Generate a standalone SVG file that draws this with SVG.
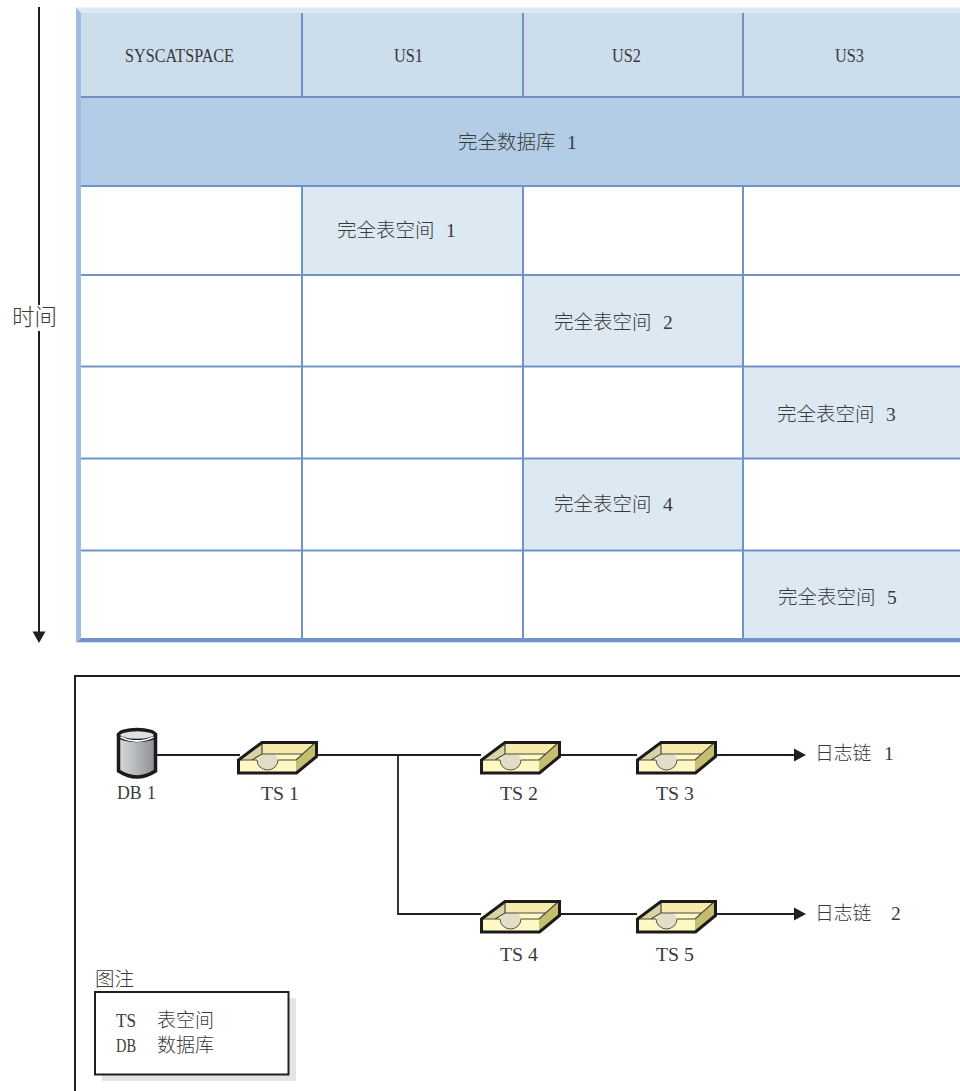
<svg xmlns="http://www.w3.org/2000/svg" width="960" height="1091" viewBox="0 0 960 1091">
<style>
text{font-family:"Liberation Serif","Noto Sans CJK SC",serif;font-size:19.500px;fill:#3a3a3a;font-weight:400}
.c{font-family:"Noto Sans CJK SC","Liberation Serif",sans-serif;font-weight:300;font-size:19.500px}
.d{font-family:"Liberation Serif",serif;font-size:19.500px}
.g{stroke:#6f93c6;stroke-width:2;fill:none}
.w{stroke:#231f20;stroke-width:2;fill:none}
</style>
<defs>
<linearGradient id="cyl" x1="0" x2="1" y1="0" y2="0"><stop offset="0" stop-color="#d8dadc"/><stop offset="1" stop-color="#8d9094"/></linearGradient>
<g id="tray">
<path d="M238 773V760L261 742H316V756L296 773Z" fill="#fdf8c4"/>
<path d="M238 760L262 742V754L252 760Z" fill="#d9d3a6"/>
<path d="M262 742H316L303 754H262Z" fill="#f6e9ac"/>
<path d="M296 760L316 742V756L296 773Z" fill="#c5be6e"/>
<path d="M257 760C259 757 261 755 264 754H273C276 755 278 757 278 760A10.500 10 0 0 1 257 760Z" fill="#e3dcc6"/>
<path d="M257 760A10.500 10 0 0 0 278 760" fill="none" stroke="#55534a" stroke-width="1"/>
<path d="M238 760H257M278 760H296L316 742M262 742V754L252 760M262 754H303" fill="none" stroke="#4a4840" stroke-width="1.200"/>
<path d="M238.500 773V760L262 742.500H316.500V756.500L296.500 773Z" fill="none" stroke="#1c1a1a" stroke-width="3"/>
</g>
</defs>

<g id="timeline">
<line class="w" x1="39" y1="7" x2="39" y2="632"/>
<path d="M32.500 631.500H45.500L39 643Z" fill="#231f20"/>
<rect x="12" y="305" width="45" height="26" fill="#fff"/>
<text class="c" x="12" y="325" style="font-size:22.500px">时间</text>
</g>

<g id="table">
<rect x="76" y="8" width="884" height="635" fill="#fff"/>
<rect x="81" y="13" width="879" height="84" fill="#ccddec"/>
<rect x="81" y="97" width="879" height="89" fill="#b2cde5"/>
<rect x="302" y="186" width="221" height="89" fill="#dce8f2"/>
<rect x="523" y="275" width="220" height="91" fill="#dce8f2"/>
<rect x="743" y="366" width="217" height="92" fill="#dce8f2"/>
<rect x="523" y="458" width="220" height="92" fill="#dce8f2"/>
<rect x="743" y="550" width="217" height="89" fill="#dce8f2"/>
<path d="M76 7.500H960V13H81Z" fill="#dce8f3"/>
<path d="M76 7.500L81 13V638L76 643Z" fill="#9dbcde"/>
<path class="g" d="M81 97H960M81 186H960M81 275H960M81 366.500H960M81 458.500H960M81 550.500H960"/>
<path class="g" d="M302 13V97M302 186V639M523 13V97M523 186V639M743 13V97M743 186V639"/>
<path d="M81 638H960V642H77Z" fill="#6f93c6"/>
<path d="M76 643L77 642H960V643Z" fill="#cfdff0"/>
</g>

<g id="table-labels">
<text x="125" y="62" textLength="109" lengthAdjust="spacingAndGlyphs">SYSCATSPACE</text>
<text x="394" y="62" textLength="29" lengthAdjust="spacingAndGlyphs">US1</text>
<text x="612" y="62" textLength="29" lengthAdjust="spacingAndGlyphs">US2</text>
<text x="835" y="62" textLength="29" lengthAdjust="spacingAndGlyphs">US3</text>
<text class="c" x="458" y="149">完全数据库<tspan class="d" x="567">1</tspan></text>
<text class="c" x="337" y="237">完全表空间<tspan class="d" x="446">1</tspan></text>
<text class="c" x="554" y="329">完全表空间<tspan class="d" x="663">2</tspan></text>
<text class="c" x="777" y="421">完全表空间<tspan class="d" x="886">3</tspan></text>
<text class="c" x="554" y="511">完全表空间<tspan class="d" x="663">4</tspan></text>
<text class="c" x="778" y="604">完全表空间<tspan class="d" x="887">5</tspan></text>
</g>

<g id="panel"><path class="w" d="M75 1091V676H960"/></g>

<g id="connectors">
<path class="w" d="M155 755H240M316 755H481M560 755H637M716 755H794" style="stroke-width:1.800"/>
<path class="w" d="M398 755V914H481M560 914H637M716 914H794" style="stroke-width:1.800"/>
<path d="M794 748.500L806 755L794 761.500Z" fill="#231f20"/>
<path d="M794 907.500L806 914L794 920.500Z" fill="#231f20"/>
</g>

<g id="db1">
<path d="M118.500 735V771Q137 783 155.500 771V735Z" fill="url(#cyl)" stroke="#1c1a1a" stroke-width="3.500"/>
<ellipse cx="137" cy="735" rx="18.500" ry="5.500" fill="#dfe0e2" stroke="#1c1a1a" stroke-width="3.500"/>
<path d="M120.500 737Q137 745 153.500 737" fill="none" stroke="#fff" stroke-width="1.800"/>
<text x="117" y="799" textLength="39" lengthAdjust="spacingAndGlyphs">DB<tspan dx="6">1</tspan></text>
</g>
<g id="ts1"><use href="#tray"/><text x="261" y="800" textLength="38" lengthAdjust="spacingAndGlyphs">TS 1</text></g>
<g id="ts2"><use href="#tray" x="243"/><text x="500" y="800" textLength="38" lengthAdjust="spacingAndGlyphs">TS 2</text></g>
<g id="ts3"><use href="#tray" x="399"/><text x="656" y="800" textLength="38" lengthAdjust="spacingAndGlyphs">TS 3</text></g>
<g id="ts4"><use href="#tray" x="243" y="159"/><text x="500" y="961" textLength="38" lengthAdjust="spacingAndGlyphs">TS 4</text></g>
<g id="ts5"><use href="#tray" x="399" y="159"/><text x="656" y="961" textLength="38" lengthAdjust="spacingAndGlyphs">TS 5</text></g>
<g id="chain1"><text class="c" x="815" y="760" style="font-size:18.800px">日志链<tspan class="d" x="884">1</tspan></text></g>
<g id="chain2"><text class="c" x="815" y="920" style="font-size:18.800px">日志链<tspan class="d" x="891">2</tspan></text></g>

<g id="legend">
<rect x="102" y="998" width="194" height="83" fill="#e3e4e5"/>
<rect x="95" y="992" width="193.500" height="82.500" fill="#fff" stroke="#231f20" stroke-width="2"/>
<text class="c" x="95" y="986" style="font-size:19.500px">图注</text>
<text x="116" y="1027" textLength="20" lengthAdjust="spacingAndGlyphs">TS</text>
<text class="c" x="157" y="1027" style="font-size:19px">表空间</text>
<text x="116" y="1052" textLength="20" lengthAdjust="spacingAndGlyphs">DB</text>
<text class="c" x="157" y="1052" style="font-size:19px">数据库</text>
</g>
</svg>
